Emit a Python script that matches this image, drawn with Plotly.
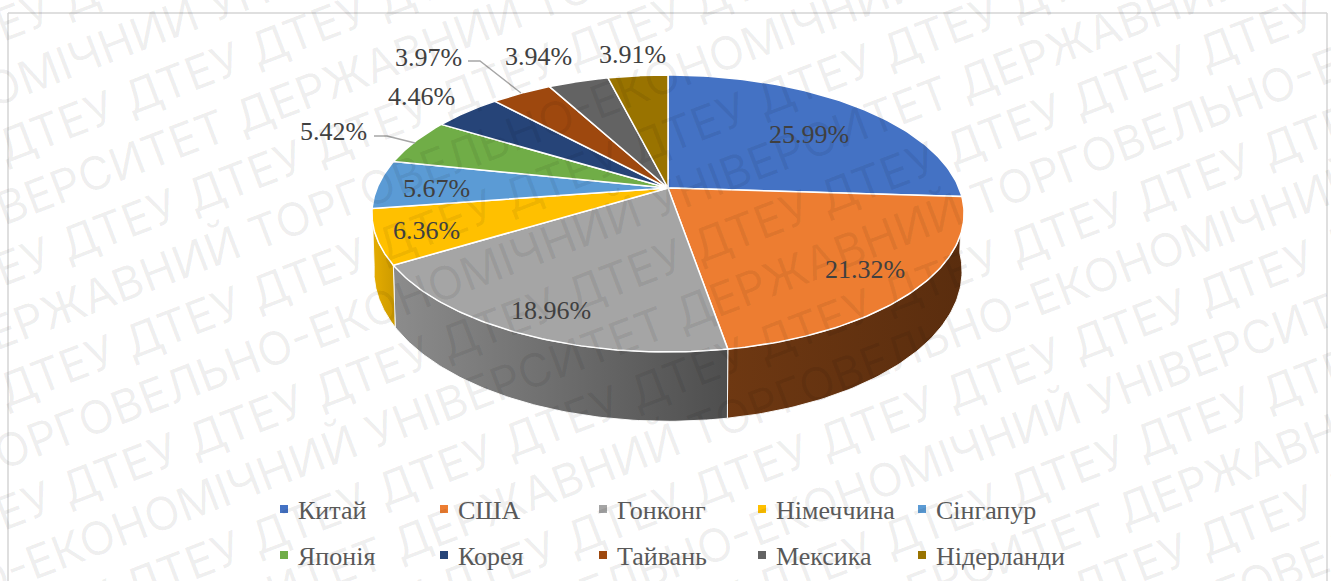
import math
import plotly.graph_objects as go

categories = ["Китай", "США", "Гонконг", "Німеччина", "Сінгапур", "Японія", "Корея", "Тайвань", "Мексика", "Нідерланди"]
shares = [25.99, 21.32, 18.96, 6.36, 5.67, 5.42, 4.46, 3.97, 3.94, 3.91]
colors = ["#4472C4", "#ED7D31", "#A5A5A5", "#FFC000", "#5B9BD5", "#70AD47", "#264478", "#9E480E", "#636363", "#997300"]
label_xy = [(809, 134), (865, 269), (551, 310), (426, 230), (436, 188), (333, 131), (421, 96), (428, 57), (538, 56), (632, 54)]
legend_x = [284, 444, 603, 762, 922]
legend_y = [509, 555]
side_grad = {1: ("#6E3812", "#5A2D0E"), 2: ("#8C8C8C", "#4E4E4E"), 3: ("#E6AD00", "#CC9A00")}
WM_SENT = "ДЕРЖАВНИЙ ТОРГОВЕЛЬНО-ЕКОНОМІЧНИЙ УНІВЕРСИТЕТ "
WM_WORD = "ДТЕУ "

def top_pt(t):
    u, v = math.sin(t), math.cos(t)
    d = 1 + 0.184 * v
    return 668 + 291 * u / d, 188 - 133.8 * v / d

def bot_pt(t):
    u, v = math.sin(t), math.cos(t)
    d = 1 + 0.184 * v
    return 668 + 289 * u / d, 243.6 - 145 * v / d

fig = go.Figure()
cum = 0.0
bounds = []
for s in shares:
    bounds.append((cum, cum + s))
    cum += s
TAU = 2 * math.pi
total = sum(shares)

def arc(fn, a, b, n=80):
    pts = [fn(TAU * (a + (b - a) * i / n) / total) for i in range(n + 1)]
    return [p[0] for p in pts], [p[1] for p in pts]

for i, (g0, g1) in side_grad.items():
    a, b = bounds[i]
    a = max(a, 25.5)
    b = min(b, 74.0)
    xt, yt = arc(top_pt, a, b)
    xb, yb = arc(bot_pt, a, b)
    fig.add_trace(go.Scatter(
        x=xt + xb[::-1] + [xt[0]], y=yt + yb[::-1] + [yt[0]], mode="lines", fill="toself",
        line=dict(color="rgba(255,255,255,0.9)", width=1),
        fillgradient=dict(type="horizontal", colorscale=[[0, g0], [1, g1]]),
        hoverinfo="skip", showlegend=False))

for (a, b), c in zip(bounds, colors):
    xs, ys = arc(top_pt, a, b)
    fig.add_trace(go.Scatter(
        x=[668] + xs + [668], y=[188] + ys + [188], mode="lines", fill="toself", fillcolor=c,
        line=dict(color="white", width=1.5), hoverinfo="skip", showlegend=False))

for lx, ly in [([374, 387, 415], [136, 136, 143]), ([468, 480, 521], [61, 61, 93])]:
    fig.add_trace(go.Scatter(x=lx, y=ly, mode="lines", line=dict(color="#A6A6A6", width=1.3), hoverinfo="skip", showlegend=False))

lx = [legend_x[i % 5] for i in range(10)]
ly = [legend_y[i // 5] for i in range(10)]
fig.add_trace(go.Scatter(x=lx, y=ly, mode="markers", marker=dict(symbol="square", size=8, color=colors), hoverinfo="skip", showlegend=False))

W, H = 1331, 581
ANG = 21.0
sa, ca = math.sin(math.radians(ANG)), math.cos(math.radians(ANG))
ann = []
PERIOD = 1375.0
for r in range(18):
    p = 24 + 57 * r
    if r % 2 == 1:
        k = (r - 3) // 2
        sc = (173 - 345 * k + PERIOD / 2) % PERIOD
        txt = (WM_SENT * 5).strip()
    else:
        k = (r - 2) // 2
        sc = 7 + 24 * k
        txt = (WM_WORD * 31).strip()
    x = ca * sc + sa * p
    y = -sa * sc + ca * p
    ann.append(dict(x=x / W, y=1 - y / H, xref="paper", yref="paper", text=txt, xanchor="center", yanchor="middle",
                    textangle=-ANG, showarrow=False,
                    font=dict(family="Inter", size=46, color="rgba(0,0,0,0.065)")))

for i, (c, s) in enumerate(zip(categories, shares)):
    ann.append(dict(x=lx[i] + 12, y=ly[i] + 1, text=c, xanchor="left", yanchor="middle", showarrow=False,
                    font=dict(family="Liberation Serif", size=26, color="#595959")))
    ann.append(dict(x=label_xy[i][0], y=label_xy[i][1], text=f"{s:.2f}%", xanchor="center", yanchor="middle", showarrow=False,
                    font=dict(family="Liberation Serif", size=26, color="#404040")))

shapes = [dict(type="line", x0=8, x1=8, y0=13, y1=581, line=dict(color="#D4D4D4", width=1.5), layer="below"),
          dict(type="line", x0=8, x1=1327, y0=13, y1=13, line=dict(color="#D4D4D4", width=1.5), layer="below"),
          dict(type="line", x0=1327, x1=1327, y0=13, y1=581, line=dict(color="#D4D4D4", width=1.5), layer="below")]

fig.update_layout(
    width=W, height=H, margin=dict(l=0, r=0, t=0, b=0), paper_bgcolor="white", plot_bgcolor="white",
    xaxis=dict(range=[0, W], visible=False, fixedrange=True),
    yaxis=dict(range=[H, 0], visible=False, fixedrange=True),
    annotations=ann, shapes=shapes, showlegend=False)
fig.write_html("out.html", config=dict(displayModeBar=False), post_script="document.body.style.margin='0';")
